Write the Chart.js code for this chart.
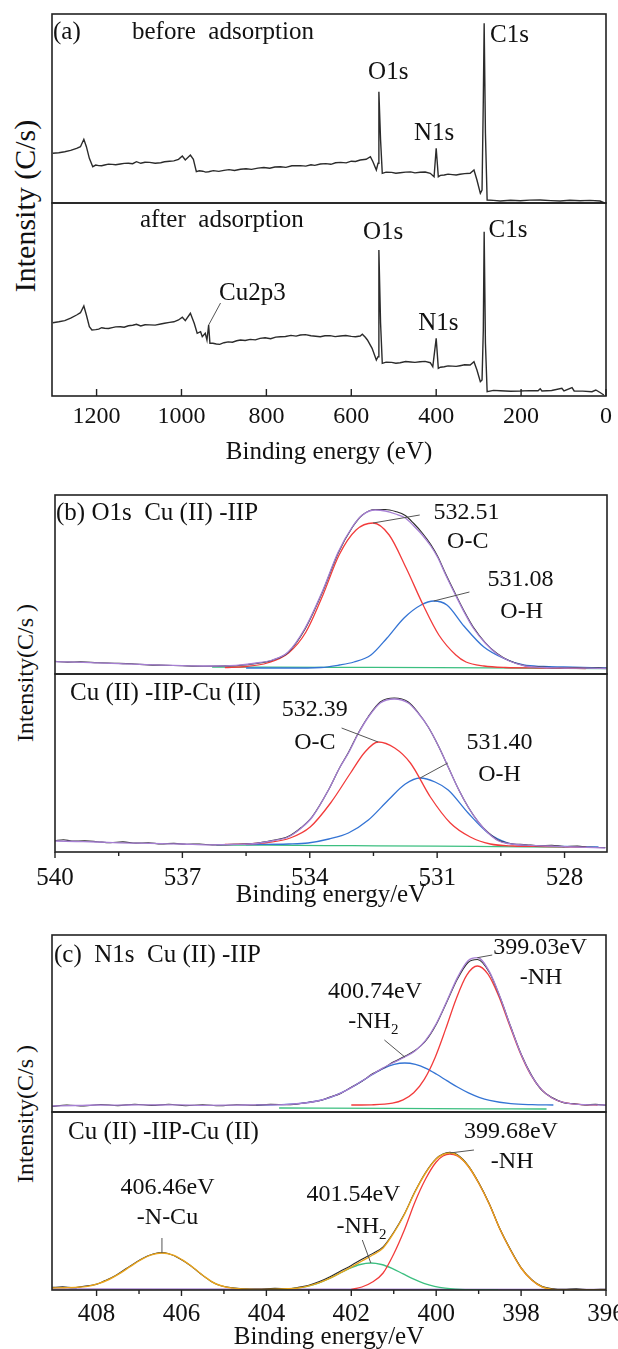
<!DOCTYPE html>
<html>
<head>
<meta charset="utf-8">
<script src="https://cdn.jsdelivr.net/npm/chart.js@4.4.1/dist/chart.umd.min.js"></script>
<style>
  html, body { margin: 0; padding: 0; background: #fff; }
  #page { position: relative; width: 618px; height: 1349px; overflow: hidden; background: #fff; }
  #page canvas { position: absolute; left: 0; }
  .ytitle {
    position: absolute; left: 25px;
    font-family: 'Liberation Serif', 'Times New Roman', serif; font-size: 24px; color: #111;
    white-space: pre; transform: translate(-50%, -50%) rotate(-90deg);
  }
</style>
</head>
<body>
<div id="page">
  <div class="ytitle" style="top:206px;font-size:30px">Intensity (C/s)</div>
  <div class="ytitle" style="top:673px">Intensity(C/s )</div>
  <div class="ytitle" style="top:1114px">Intensity(C/s )</div>
</div>
<script>
// ---------- survey spectra, binding energy (eV) vs. intensity (arb.) ----------
const surveyBefore = [
  [1303,49.7],[1289,50.2],[1275,51.3],[1261,52.6],[1247,54.7],[1238,56.3],[1230,63.7],[1224,56.3],
  [1217,44.7],[1209,36.3],[1202,37.9],[1195,37.4],[1188,37.2],[1181,38],[1172,38.9],[1163,38.6],
  [1155,38.2],[1144,39],[1135,39.6],[1125,39.8],[1115,39.3],[1106,41.3],[1096,39.7],[1086,40.8],
  [1075,40.6],[1062,39.8],[1049,40.3],[1040,41.2],[1028,41.8],[1018,42.1],[1007,43.7],[998,47],
  [991,43],[979,48],[972,43.7],[965,31.3],[958,32.2],[950,31.8],[943,30.9],[936,31.3],[925,32.4],
  [912,31.6],[900,32.6],[888,33.4],[875,32.5],[861,33.7],[848,34.3],[835,33.6],[820,34.9],[806,35.5],
  [792,34.7],[780,36.0],[767,36.3],[754,35.6],[740,37.2],[720,37.4],[707,36.9],[695,38.2],[686,37.6],
  [673,39],[660,39.4],[648,38.7],[637,40.2],[625,40.6],[612,40.1],[600,41.8],[590,41.5],[579,43],
  [565,43.7],[555,46.3],[549,41.3],[541,33],[537,39.7],[535,111.3],[531,63],[527,29.7],[518,30.9],
  [505,30.6],[495,29.8],[485,30.3],[472,30.9],[460,31.1],[450,30.1],[438,30.7],[426,31.0],[414,29.7],
  [405,26.3],[400,54.7],[395,26.3],[390,27.6],[381,28],[372,28.9],[362,28.4],[353,28.0],[344,28.7],
  [333,29.4],[320,29.7],[311,33],[304,23],[296,9.7],[292,13],[289,103],[287,179.7],[284,69.7],[280,3],
  [265,2.6],[249,2],[225,2.8],[202,2.3],[180,2.9],[155,3],[130,2.4],[108,2],[85,2.7],[61,2.3],
  [38,2.6],[14,2],[5,0.3]
];
const surveyAfter = [
  [1303,73.3],[1289,74.2],[1275,75.3],[1261,77.8],[1247,81],[1238,83.3],[1230,90],[1224,81],
  [1217,69.3],[1211,66],[1202,66.4],[1195,66.9],[1188,68.3],[1181,67.7],[1172,67.5],[1163,68.4],
  [1155,69.1],[1144,69.3],[1135,68.8],[1125,70.2],[1115,70.8],[1106,71.7],[1096,70],[1086,71.2],
  [1075,71.1],[1062,70.9],[1049,72],[1040,72.8],[1028,73.6],[1018,74.2],[1007,76],[998,78.7],
  [991,75.3],[979,82.7],[970,72.7],[963,62.7],[955,64.3],[951,59.3],[944,62.7],[940,56],[936,71],
  [933,52.7],[926,52.8],[918,52],[910,51.6],[900,53.3],[890,54.1],[880,53.8],[870,55.2],[861,56],
  [850,55.5],[838,56.6],[826,56.1],[815,57.6],[803,58.2],[790,57.3],[778,58.9],[767,59.3],[755,59.5],
  [742,60.6],[730,59.9],[720,61],[708,61.4],[695,60.2],[684,59.8],[673,59.3],[662,60.3],[650,60.4],
  [638,59.4],[626,60],[613,60.5],[600,59.6],[590,59.2],[579,60],[574,61.7],[567,58.7],[562,56],
  [551,47.7],[541,36],[537,39.3],[535,146],[531,72.7],[527,32.7],[518,33.9],[505,33.6],[495,32.8],
  [485,33.3],[472,34.5],[460,34],[450,33.6],[438,34.3],[426,34.6],[414,33.3],[408,29.3],[400,57.7],
  [395,27.7],[390,28.8],[381,29.3],[372,30.1],[362,29.9],[353,29.6],[344,30.3],[333,31.2],[320,31],
  [311,34.3],[304,26],[296,14.3],[292,16],[289,66],[287,164.3],[284,52.7],[280,4.3],[265,5.6],
  [249,5.3],[225,4.8],[202,5],[180,5.4],[160,5.2],[155,7.3],[151,5],[128,5.5],[104,7.7],[99,5],
  [80,8.3],[75,5],[55,4.9],[33,4.3],[24,6],[14,3.5],[5,1]
];
const surveyTicks = [1200, 1000, 800, 600, 400, 200, 0];

// ---------- O1s high-resolution spectra ----------
const o1sTopRaw = [
  [540,12.6],[539.7,11.9],[539.4,12.1],[539,11.3],[538.6,10.8],[538.2,10.2],[537.8,9.1],[537.4,8.7],
  [537,8.2],[536.5,7.8],[536,8.1],[535.68,8.5],[535.25,10.6],[534.88,13.8],[534.51,21.5],[534.11,45],
  [533.71,81],[533.33,121],[533,146.5],[532.76,159],[532.46,164.5],[532.22,164.5],[531.98,162.5],
  [531.75,158.5],[531.55,150.5],[531.35,141],[531.15,129.5],[530.98,117],[530.82,102],[530.58,81],
  [530.34,61],[530.15,47],[529.87,31.5],[529.59,20.5],[529.3,13.2],[528.93,8.3],[528.5,6.9],
  [528.2,6.2],[527.8,6.5],[527.5,5.9],[527.2,6.1],[527,5.6]
];
const o1sTopFit = [
  [540,12.3],[539.5,11.8],[539,11.2],[538.5,10.4],[538,9.6],[537.5,8.9],[537,8.3],[536.5,8],[536,8.2],
  [535.68,8.8],[535.25,11],[534.88,14],[534.51,22],[534.11,46],[533.71,82],[533.33,122],[533,147],
  [532.76,159],[532.46,164],[532.22,163],[531.98,160],[531.75,156],[531.55,148],[531.35,139],
  [531.15,128],[530.98,116],[530.82,101],[530.58,80],[530.34,60],[530.15,46],[529.87,31],[529.59,20],
  [529.3,13],[528.93,8],[528.5,6.5],[528,6],[527.5,5.8],[527,5.5]
];
const o1sTopOC = [
  [536,6.5],[535.5,7.5],[535,11],[534.5,21],[534.09,42],[533.69,79],[533.31,119],[532.91,144],
  [532.51,151],[532.13,139],[531.73,106],[531.33,69],[530.96,39],[530.56,19],[530.32,12],[529.9,8],
  [529.4,6.5],[528.5,6],[527.5,5.5]
];
const o1sTopOH = [
  [535.5,6],[534.5,6],[533.74,6.5],[533.3,9],[532.96,12],[532.56,19],[532.18,36],[531.78,56],
  [531.38,69],[531.08,73],[530.77,69],[530.37,48],[529.9,27],[529.4,15],[528.96,9],[528.5,7.5],
  [528.02,7],[527,6]
];
const o1sTopBase = [[536.3,7],[535,6.9],[533,6.6],[531,6.3],[529,5.9],[527,5.5]];

const o1sBotRaw = [
  [540,11.4],[539.8,12.3],[539.6,10.9],[539.3,11.1],[539,10.3],[538.7,9.4],[538.4,10.1],[538.1,8.9],
  [537.8,9.2],[537.5,8.1],[537.2,8.6],[536.9,7.7],[536.6,8],[536.3,7.1],[535.8,7.6],[535.26,8.8],
  [534.9,11.4],[534.51,15.5],[534.2,24.5],[533.94,35.5],[533.56,62],[533.3,84],[533.09,99.5],
  [532.85,119.5],[532.62,135.5],[532.34,150],[532.01,154],[531.68,150],[531.45,139.5],[531.21,125],
  [530.97,106],[530.74,85],[530.5,63],[530.27,45],[530.03,30],[529.8,19.5],[529.55,11.5],[529.33,8.8],
  [528.9,7.3],[528.6,6.2],[528.3,6.8],[528,5.4],[527.7,5.9],[527.4,4.7],[527.04,4.5]
];
const o1sBotFit = [
  [540,11],[539.5,10.5],[539,10],[538.5,9.2],[538,8.8],[537.5,8.3],[537,8],[536.39,7.2],[535.8,7.5],
  [535.26,8.5],[534.9,11],[534.51,15],[534.2,24],[533.94,35],[533.56,62],[533.3,84],[533.09,99],
  [532.85,119],[532.62,135],[532.34,149],[532.01,153],[531.68,149],[531.45,139],[531.21,125],
  [530.97,106],[530.74,85],[530.5,63],[530.27,45],[530.03,30],[529.8,19],[529.55,11],[529.33,8.5],
  [528.9,6.8],[528.4,6],[527.7,5],[527.04,4]
];
const o1sBotOC = [
  [536,7.5],[535.5,8],[535,9.5],[534.46,14],[533.99,25],[533.51,49],[533.04,79],[532.7,100],
  [532.39,110],[532,104],[531.63,89],[531.16,55],[530.69,29],[530.22,15],[529.75,8],[529.2,6],
  [528.5,5.5],[527.5,5]
];
const o1sBotOH = [
  [535.5,7.5],[534.5,8],[534.04,9],[533.55,13],[533.09,19],[532.62,32],[532.15,52],[531.75,68],
  [531.4,74],[531.05,70],[530.74,62],[530.27,39],[529.8,19],[529.33,9],[528.8,6],[528,5.5],[527.2,5]
];
const o1sBotBase = [[536.2,7],[535,6.8],[533,6.3],[531,5.8],[529,5.2],[528,5]];
const o1sTicks = [540, 537, 534, 531, 528];
const o1sMinor = [538.5, 535.5, 532.5, 529.5];

// ---------- N1s high-resolution spectra ----------
const n1sTopRaw = [
  [409.05,5.5],[408.7,7],[408.3,6],[407.9,7.5],[407.5,6.4],[407.1,7.8],[406.7,6.6],[406.3,7.7],
  [405.9,6.3],[405.5,7.2],[405.1,6.2],[404.7,7.3],[404.3,6.7],[403.9,7.6],[403.5,7.3],[403,9.8],
  [402.75,11.2],[402.5,15],[402.25,18.6],[402,24.8],[401.75,30.6],[401.5,38.2],[401.25,43.7],
  [401,50.2],[400.75,55.5],[400.5,61.5],[400.25,71],[400,87.5],[399.75,110],[399.5,133],
  [399.25,149.5],[399.03,152.5],[398.75,139.8],[398.5,115.2],[398.25,86],[398,58],[397.75,36.4],
  [397.5,21.3],[397.25,13.9],[397,9.3],[396.75,8.3],[396.5,7.1],[396.25,7.6],[396,6.8]
];
const n1sTopFit = [
  [409.05,6],[408.5,6.5],[408,7],[407.5,6.8],[407,7.2],[406.5,7],[406,7.1],[405.5,6.7],[405,6.8],
  [404.5,7],[404,7.1],[403.5,7.6],[403,9.5],[402.75,11.5],[402.5,14.6],[402.25,18.9],[402,24.4],
  [401.75,31],[401.5,37.7],[401.25,44.1],[401,49.6],[400.75,54.7],[400.5,61.1],[400.25,71.6],
  [400,88.3],[399.75,110.8],[399.5,134.4],[399.25,151.2],[399.03,154.3],[398.75,140.6],[398.5,115.6],
  [398.25,85.7],[398,57.7],[397.75,35.9],[397.5,21.6],[397.25,13.5],[397,9.6],[396.75,7.9],
  [396.5,7.3],[396,7]
];
const n1sTopNH = [
  [402,7],[401.53,7.2],[401.03,8.8],[400.78,12.1],[400.53,19.2],[400.28,32.7],[400.03,54.1],
  [399.78,82.6],[399.53,113.1],[399.28,136.9],[399.03,146],[398.78,137.8],[398.53,116.2],
  [398.28,87.8],[398.03,60],[397.78,37.8],[397.53,22.9],[397.28,14.2],[397.03,9.9],[396.53,7.3],
  [396.2,7]
];
const n1sTopNH2 = [
  [404.24,7],[403.74,7.3],[403.24,8.3],[402.74,11.6],[402.49,14.7],[402.24,19.1],[401.99,24.7],
  [401.74,31.1],[401.49,37.7],[401.24,43.6],[400.99,47.6],[400.74,49],[400.49,47.6],[400.24,43.6],
  [399.99,37.7],[399.74,31.1],[399.49,24.7],[399.24,19.1],[398.99,14.7],[398.74,11.6],[398.24,8.3],
  [397.74,7.3],[397.24,7]
];
const n1sTopBase = [[403.7,4],[401,3.6],[399,3.2],[397.4,3]];

const n1sBotRaw = [
  [409.05,2.6],[408.8,3.1],[408.55,2.2],[408.3,3.8],[408.05,5.2],[407.8,9.4],[407.55,14.5],
  [407.3,21.5],[407.05,28.4],[406.8,34],[406.55,37.2],[406.46,37.4],[406.3,36.2],[406.05,31.6],
  [405.8,24.8],[405.55,16.2],[405.3,8.6],[405.05,4],[404.8,2.2],[404.55,1.3],[404.2,0.9],[403.8,1.6],
  [403.5,1.3],[403.25,2.6],[403,4.8],[402.75,8.4],[402.5,13.2],[402.25,19],[402,24.6],[401.75,30.8],
  [401.5,36.4],[401.25,43.2],[401,57.8],[400.75,76],[400.5,98.4],[400.25,117.5],[400,131.4],
  [399.84,136],[399.68,137.6],[399.5,135.2],[399.25,124.6],[399,107.4],[398.75,86.3],[398.5,61.2],
  [398.25,40.4],[398,22.3],[397.75,10.4],[397.5,3.4],[397.25,1.2],[397,0.6],[396.7,1.1],[396.4,0.4],
  [396,0.7]
];
const n1sBotFit = [
  [409.05,2],[408.75,2.3],[408.5,2.6],[408.21,3.6],[407.96,6.3],[407.71,10.5],[407.46,16.3],
  [407.21,23.3],[406.96,30.1],[406.71,35.1],[406.46,37],[406.21,35.1],[405.96,29.6],[405.71,22],
  [405.46,13.5],[405.21,6.5],[404.96,3],[404.71,1.5],[404.46,0.8],[404,0.6],[403.5,1.2],[403.25,2],
  [403,4.1],[402.75,7.4],[402.5,11.9],[402.25,17.3],[402,22.9],[401.75,29],[401.5,35],[401.25,42],
  [401,57],[400.75,75.5],[400.5,98],[400.25,117],[400,131],[399.84,135.5],[399.68,137],[399.5,134.7],
  [399.25,124.2],[399,107],[398.75,86],[398.5,61],[398.25,40],[398,22],[397.75,10],[397.5,3],
  [397.25,0.5],[397,0],[396,0]
];
const n1sBotNH = [
  [402,0.5],[401.75,3],[401.5,8],[401.25,17],[401,36],[400.75,60],[400.5,88],[400.25,111],[400,128],
  [399.84,134],[399.68,136],[399.5,134],[399.25,124],[399,107],[398.75,86],[398.5,61],[398.25,40],
  [398,22],[397.75,10],[397.5,3],[397.25,0.5],[397,0]
];
const n1sBotNH2 = [
  [404.04,0.1],[403.54,0.8],[403.29,1.8],[403.04,3.7],[402.79,6.7],[402.54,11.1],[402.29,16.4],
  [402.04,21.6],[401.79,25.5],[401.54,27],[401.29,25.5],[401.04,21.6],[400.79,16.4],[400.54,11.1],
  [400.29,6.7],[400.04,3.7],[399.79,1.8],[399.54,0.8],[399.04,0.1],[398.54,0]
];
const n1sBotBase = [[409.05,1],[396,0.5]];
const n1sTicks = [408, 406, 404, 402, 400, 398, 396];
const n1sMinor = [407, 405, 403, 401, 399, 397];

// ---------- drawing ----------
const PAGE_W = 618;
const SERIF = "'Liberation Serif', 'Times New Roman', serif";
const INK = '#111111', FRAME = '#222222', LEAD = '#555555';
const BLACK = '#2b2b2b', PURPLE = '#a67fd3', RED = '#f23b3b', BLUE = '#3474d4',
      GREEN = '#3cbf80', ORANGE = '#e9a41c';
const page = document.getElementById('page');

function line(arr, color, width, smooth) {
  return {
    data: arr.map(p => ({ x: p[0], y: p[1] })),
    borderColor: color, borderWidth: width, pointRadius: 0, fill: false,
    tension: 0, cubicInterpolationMode: smooth ? 'monotone' : 'default'
  };
}

// box outline, tick marks and text notes of one plot region
function decor(cfg) {
  return {
    id: 'decor',
    afterDatasetsDraw(chart) {
      const { ctx, chartArea: a, scales: { x, y } } = chart;
      ctx.save();
      // tick marks on the bottom edge
      if (cfg.axis) {
        ctx.strokeStyle = FRAME; ctx.lineWidth = 1.4;
        const marks = cfg.ticks.map(v => [v, cfg.axis.majorLen])
          .concat((cfg.minor || []).map(v => [v, cfg.axis.minorLen]));
        for (const [v, len] of marks) {
          const px = x.getPixelForValue(v);
          ctx.beginPath();
          ctx.moveTo(px, a.bottom);
          ctx.lineTo(px, cfg.axis.inward ? a.bottom - len : a.bottom + len);
          ctx.stroke();
        }
      }
      // leader lines
      ctx.strokeStyle = LEAD; ctx.lineWidth = 1;
      for (const L of (cfg.leaders || [])) {
        ctx.beginPath();
        ctx.moveTo(x.getPixelForValue(L[0]), y.getPixelForValue(L[1]));
        ctx.lineTo(x.getPixelForValue(L[2]), y.getPixelForValue(L[3]));
        ctx.stroke();
      }
      // frame
      ctx.strokeStyle = FRAME; ctx.lineWidth = 1.6;
      ctx.strokeRect(a.left, a.top, a.right - a.left, a.bottom - a.top);
      // notes
      ctx.fillStyle = INK; ctx.textBaseline = 'middle'; ctx.textAlign = 'left';
      for (const n of (cfg.notes || [])) {
        const size = n.size || 24;
        const px = n.dx !== undefined ? a.left + n.dx : x.getPixelForValue(n.x);
        const py = n.dy !== undefined ? a.top + n.dy : y.getPixelForValue(n.y);
        ctx.font = size + 'px ' + SERIF;
        const w1 = ctx.measureText(n.text).width;
        const subSize = Math.round(size * 0.62);
        let w2 = 0;
        if (n.sub) { ctx.font = subSize + 'px ' + SERIF; w2 = ctx.measureText(n.sub).width; }
        const left = n.align === 'left' ? px : px - (w1 + w2) / 2;
        ctx.font = size + 'px ' + SERIF;
        ctx.fillText(n.text, left, py);
        if (n.sub) {
          ctx.font = subSize + 'px ' + SERIF;
          ctx.fillText(n.sub, left + w1, py + size * 0.32);
        }
      }
      ctx.restore();
    }
  };
}

function plotRegion(cfg) {
  const cv = document.createElement('canvas');
  const padTop = 10, padBottom = cfg.axis ? 0 : 10;
  const areaH = cfg.box.bottom - cfg.box.top;
  const axisH = cfg.axis ? cfg.axis.height : 0;
  cv.width = PAGE_W;
  cv.height = padTop + areaH + axisH + padBottom;
  cv.style.top = (cfg.box.top - padTop) + 'px';
  cv.style.width = PAGE_W + 'px';
  cv.style.height = cv.height + 'px';
  page.appendChild(cv);

  new Chart(cv, {
    type: 'line',
    data: { datasets: cfg.datasets },
    options: {
      responsive: false, animation: false, events: [],
      layout: { padding: { left: cfg.box.left, right: PAGE_W - cfg.box.right, top: padTop, bottom: padBottom } },
      plugins: { legend: { display: false }, tooltip: { enabled: false } },
      scales: {
        x: {
          type: 'linear', reverse: true, min: cfg.range[0], max: cfg.range[1],
          display: !!cfg.axis,
          grid: { display: false }, border: { display: false },
          afterBuildTicks: s => { s.ticks = cfg.ticks.map(v => ({ value: v })); },
          ticks: {
            autoSkip: false, maxRotation: 0, color: INK,
            padding: cfg.axis ? cfg.axis.tickPad : 0,
            font: { family: SERIF, size: cfg.axis ? cfg.axis.tickSize : 23 },
            callback: v => String(v)
          },
          title: cfg.axis
            ? { display: true, text: cfg.axis.title, color: INK, padding: 0, font: { family: SERIF, size: 25 } }
            : { display: false },
          afterFit: s => { if (cfg.axis) s.height = axisH; s.paddingLeft = 0; s.paddingRight = 0; }
        },
        y: { display: false, min: 0, max: areaH }
      }
    },
    plugins: [decor(cfg)]
  });
}

// (a) survey
plotRegion({
  box: { top: 14, bottom: 203, left: 52, right: 606 }, range: [0, 1305], ticks: surveyTicks,
  datasets: [line(surveyBefore, BLACK, 1.4, false)],
  notes: [
    { text: '(a)', dx: 1, dy: 18, align: 'left', size: 25 },
    { text: 'before  adsorption', dx: 80, dy: 18, align: 'left', size: 25 },
    { text: 'O1s', x: 513, y: 131, size: 25 },
    { text: 'N1s', x: 405, y: 70, size: 25 },
    { text: 'C1s', x: 273, y: 168, align: 'left', size: 25 }
  ]
});
plotRegion({
  box: { top: 203, bottom: 396, left: 52, right: 606 }, range: [0, 1305], ticks: surveyTicks,
  axis: { height: 71, tickPad: -2, tickSize: 24, title: 'Binding energy (eV)', inward: true, majorLen: 7, minorLen: 0 },
  datasets: [line(surveyAfter, BLACK, 1.4, false)],
  notes: [
    { text: 'after  adsorption', dx: 88, dy: 17, align: 'left', size: 25 },
    { text: 'O1s', x: 525, y: 164, size: 25 },
    { text: 'C1s', x: 231, y: 166, size: 25 },
    { text: 'Cu2p3', x: 833, y: 103, size: 25 },
    { text: 'N1s', x: 395, y: 73, size: 25 }
  ],
  leaders: [[936, 71, 908, 93]]
});

// (b) O1s
plotRegion({
  box: { top: 495, bottom: 674, left: 55, right: 607 }, range: [527, 540], ticks: o1sTicks,
  datasets: [
    line(o1sTopFit, PURPLE, 1.3, true), line(o1sTopRaw, BLACK, 1.1, true),
    line(o1sTopOC, RED, 1.3, true), line(o1sTopOH, BLUE, 1.3, true), line(o1sTopBase, GREEN, 1.3, true)
  ],
  notes: [
    { text: '(b) O1s  Cu (II) -IIP', dx: 1, dy: 18, align: 'left', size: 25 },
    { text: '532.51', x: 530.31, y: 161 },
    { text: 'O-C', x: 530.28, y: 132 },
    { text: '531.08', x: 529.04, y: 94 },
    { text: 'O-H', x: 529.01, y: 62 }
  ],
  leaders: [[532.51, 151, 531.41, 159], [531.08, 73, 530.24, 82]]
});
plotRegion({
  box: { top: 674, bottom: 852, left: 55, right: 607 }, range: [527, 540], ticks: o1sTicks, minor: o1sMinor,
  axis: { height: 58, tickPad: 3, tickSize: 25, title: 'Binding energy/eV', inward: false, majorLen: 6, minorLen: 4 },
  datasets: [
    line(o1sBotFit, PURPLE, 1.3, true), line(o1sBotRaw, BLACK, 1.1, true),
    line(o1sBotOC, RED, 1.3, true), line(o1sBotOH, BLUE, 1.3, true), line(o1sBotBase, GREEN, 1.3, true)
  ],
  notes: [
    { text: 'Cu (II) -IIP-Cu (II)', dx: 15, dy: 19, align: 'left', size: 25 },
    { text: '532.39', x: 533.88, y: 142 },
    { text: 'O-C', x: 533.88, y: 109 },
    { text: '531.40', x: 529.53, y: 109 },
    { text: 'O-H', x: 529.53, y: 77 }
  ],
  leaders: [[533.25, 124, 532.39, 110], [531.40, 74, 530.75, 89]]
});

// (c) N1s
plotRegion({
  box: { top: 935, bottom: 1112, left: 52, right: 606 }, range: [396, 409.05], ticks: n1sTicks,
  datasets: [
    line(n1sTopFit, PURPLE, 1.3, true), line(n1sTopRaw, BLACK, 1.1, true),
    line(n1sTopNH, RED, 1.3, true), line(n1sTopNH2, BLUE, 1.3, true), line(n1sTopBase, GREEN, 1.3, true)
  ],
  notes: [
    { text: '(c)  N1s  Cu (II) -IIP', dx: 2, dy: 20, align: 'left', size: 25 },
    { text: '399.03eV', x: 397.55, y: 164 },
    { text: '-NH', x: 397.53, y: 134 },
    { text: '400.74eV', x: 401.44, y: 120 },
    { text: '-NH', sub: '2', x: 401.48, y: 90 }
  ],
  leaders: [[399.03, 154.3, 398.68, 157], [401.22, 72, 400.74, 55]]
});
plotRegion({
  box: { top: 1112, bottom: 1290, left: 52, right: 606 }, range: [396, 409.05], ticks: n1sTicks, minor: n1sMinor,
  axis: { height: 62, tickPad: 1, tickSize: 25, title: 'Binding energy/eV', inward: false, majorLen: 6, minorLen: 4 },
  datasets: [
    line(n1sBotFit, ORANGE, 1.4, true), line(n1sBotRaw, BLACK, 1.1, true),
    line(n1sBotNH, RED, 1.3, true), line(n1sBotNH2, GREEN, 1.3, true), line(n1sBotBase, PURPLE, 1.3, true)
  ],
  notes: [
    { text: 'Cu (II) -IIP-Cu (II)', dx: 16, dy: 20, align: 'left', size: 25 },
    { text: '399.68eV', x: 398.24, y: 158 },
    { text: '-NH', x: 398.21, y: 128 },
    { text: '406.46eV', x: 406.33, y: 102 },
    { text: '-N-Cu', x: 406.33, y: 72 },
    { text: '401.54eV', x: 401.95, y: 95 },
    { text: '-NH', sub: '2', x: 401.76, y: 63 }
  ],
  leaders: [[399.68, 137, 399.11, 140], [406.46, 52, 406.46, 37], [401.74, 50, 401.54, 27]]
});
</script>
</body>
</html>
